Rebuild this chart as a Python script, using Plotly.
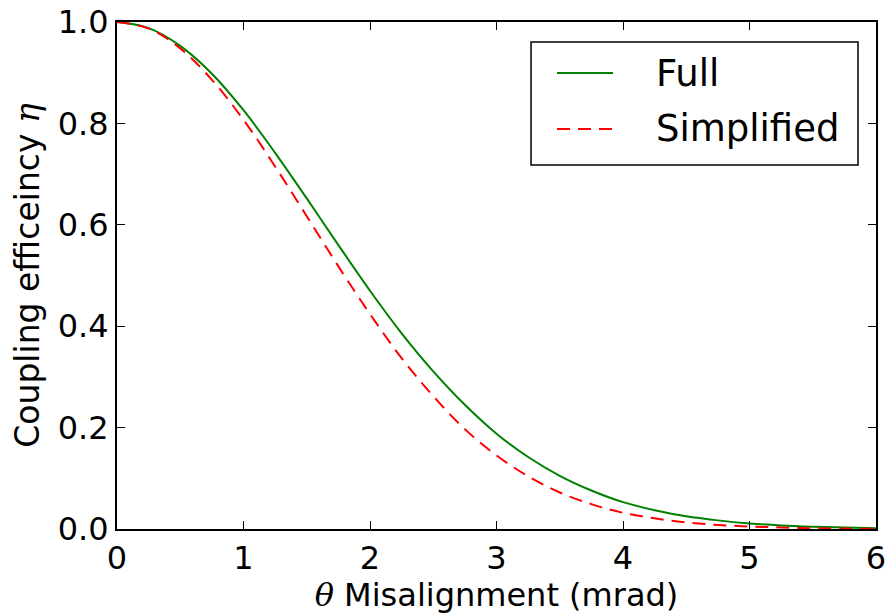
import plotly.graph_objects as go

theta = [0.0, 0.25, 0.5, 0.75, 1.0, 1.25, 1.5, 1.75, 2.0, 2.25, 2.5, 2.75, 3.0,
         3.25, 3.5, 3.75, 4.0, 4.25, 4.5, 4.75, 5.0, 5.25, 5.5, 5.75, 6.0]
full = [1.0, 0.988, 0.953, 0.898, 0.826, 0.742, 0.652, 0.560, 0.470, 0.386, 0.311,
        0.245, 0.188, 0.142, 0.105, 0.076, 0.053, 0.037, 0.025, 0.017, 0.011,
        0.007, 0.0045, 0.0028, 0.0017]
simplified = [1.0, 0.987, 0.948, 0.886, 0.807, 0.715, 0.617, 0.518, 0.424, 0.337,
              0.262, 0.197, 0.145, 0.104, 0.072, 0.049, 0.032, 0.021, 0.013, 0.008,
              0.005, 0.003, 0.0015, 0.0008, 0.0004]
x_ticks = [0, 1, 2, 3, 4, 5, 6]
y_ticks = [0.0, 0.2, 0.4, 0.6, 0.8, 1.0]
series_names = ["Full", "Simplified"]
series_colors = ["#008000", "#ff0000"]
series_dash = ["solid", "13px,8px"]

FONT = "DejaVu Sans"
FS = 32
LEG_FS = 37
MATH = '<span style="font-family:DejaVu Serif"><i>{}</i></span>'

fig = go.Figure()
for name, ys, col, dash in zip(series_names, [full, simplified], series_colors, series_dash):
    fig.add_trace(go.Scatter(x=theta, y=ys, mode="lines", name=name, showlegend=False,
                             line=dict(color=col, width=2, dash=dash, shape="spline")))

axis_common = dict(showline=True, linecolor="black", linewidth=2, mirror="ticks",
                   ticks="inside", ticklen=8, tickwidth=1, tickcolor="black",
                   showgrid=False, zeroline=False, automargin=False,
                   tickfont=dict(family=FONT, size=FS, color="black"))

fig.update_xaxes(range=[0, 6], tickvals=x_ticks, ticktext=[str(v) for v in x_ticks],
                 title=dict(text=MATH.format("θ") + " Misalignment (mrad)", standoff=8,
                            font=dict(family=FONT, size=FS, color="black")),
                 **axis_common)
fig.update_yaxes(range=[0, 1], tickvals=y_ticks, ticktext=[f"{v:.1f}" for v in y_ticks],
                 title=dict(text="Coupling efficeincy " + MATH.format("η"), standoff=8,
                            font=dict(family=FONT, size=33, color="black")),
                 **axis_common)

# manual legend (matplotlib-style box)
box = dict(x0=0.5455, x1=0.9763, y0=0.718, y1=0.9606)
shapes = [dict(type="rect", xref="paper", yref="paper", **box,
               line=dict(color="black", width=1.5), fillcolor="white", layer="above")]
annotations = []
row_y = [0.8994, 0.789]
for name, col, dash, ry in zip(series_names, series_colors, series_dash, row_y):
    shapes.append(dict(type="line", xref="paper", yref="paper", x0=0.5797, x1=0.6535,
                       y0=ry, y1=ry, line=dict(color=col, width=2, dash=dash), layer="above"))
    annotations.append(dict(xref="paper", yref="paper", x=0.7075, y=ry, text=name,
                            showarrow=False, xanchor="left", yanchor="middle",
                            font=dict(family=FONT, size=LEG_FS, color="black")))

fig.update_layout(
    width=887, height=614,
    margin=dict(l=117, r=11, t=22, b=85),
    paper_bgcolor="white", plot_bgcolor="white",
    font=dict(family=FONT, color="black"),
    showlegend=False,
    shapes=shapes, annotations=annotations,
)

fig.write_html("out.html")
